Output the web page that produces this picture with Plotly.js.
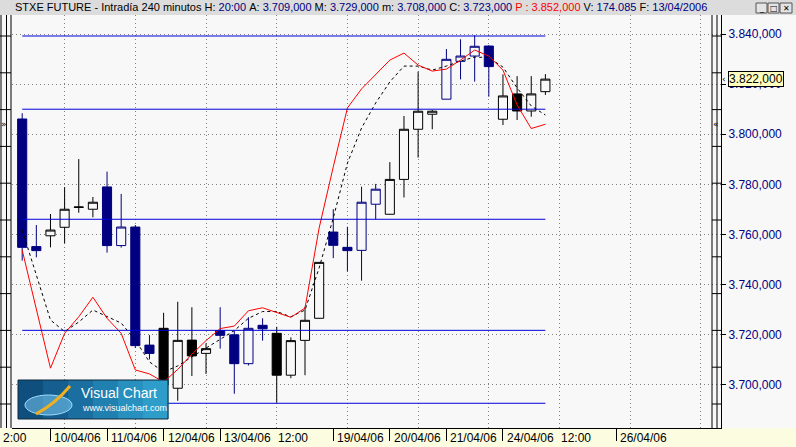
<!DOCTYPE html>
<html><head><meta charset="utf-8">
<script src="https://cdn.plot.ly/plotly-3.0.1.min.js"></script>
<style>html,body{margin:0;padding:0;background:#f8f8f8;overflow:hidden}#chart{width:796px;height:447px}</style>
</head><body><div id="chart"></div>
<script>
// ---------- data ----------
const candleDay = ['07/04','07/04','10/04','10/04','10/04','10/04','11/04','11/04','11/04','11/04',
  '12/04','12/04','12/04','12/04','13/04','13/04','13/04','13/04','18/04','18/04','18/04','18/04',
  '19/04','19/04','19/04','19/04','20/04','20/04','20/04','20/04','21/04','21/04','21/04','21/04',
  '24/04','24/04','24/04','24/04'];
const opens  = [3806.1,3755.2,3759.5,3762.9,3770.8,3770.1,3779.0,3755.6,3763.0,3715.9,
  3722.6,3698.7,3717.9,3712.6,3721.7,3720.0,3708.5,3723.8,3720.6,3703.9,3717.8,3726.6,
  3761.0,3754.9,3753.7,3772.1,3768.1,3782.0,3802.0,3808.0,3814.0,3829.1,3831.2,3835.2,
  3806.0,3816.1,3809.3,3817.0];
const highs  = [3808.4,3763.8,3768.2,3778.9,3790.1,3775.0,3785.1,3776.2,3763.8,3719.9,
  3728.8,3733.2,3731.0,3716.6,3731.0,3721.7,3727.0,3726.6,3723.2,3719.0,3731.2,3749.0,
  3770.1,3763.1,3779.1,3780.2,3788.9,3807.3,3825.0,3809.7,3834.0,3837.9,3839.5,3835.5,
  3823.9,3823.2,3823.2,3824.0];
const lows   = [3749.6,3750.9,3754.9,3756.5,3768.7,3766.9,3752.8,3754.8,3714.8,3710.2,
  3695.0,3693.7,3703.6,3704.4,3714.5,3696.5,3707.8,3717.7,3692.9,3702.7,3703.9,3726.5,
  3750.6,3745.3,3741.6,3766.1,3768.0,3774.8,3790.7,3802.0,3814.0,3821.9,3821.0,3815.0,
  3803.7,3805.7,3807.0,3815.7];
const closes = [3754.9,3753.6,3761.8,3770.1,3771.0,3772.9,3755.6,3763.0,3715.7,3712.6,
  3700.0,3717.8,3711.6,3714.5,3719.8,3708.5,3722.6,3722.4,3703.9,3717.7,3725.8,3748.9,
  3755.7,3753.6,3772.9,3778.1,3782.0,3802.0,3809.2,3809.2,3829.9,3831.2,3835.1,3827.0,
  3815.3,3809.3,3816.1,3822.0];
const redLine = [3753.8,3729.9,3706.7,3720.6,3727.2,3735.0,3726.6,3720.6,3706.0,3704.4,
  3701.2,3706.2,3712.3,3717.7,3722.5,3723.5,3729.6,3730.8,3728.8,3727.0,3730.7,3762.6,
  3787.0,3810.5,3818.1,3824.0,3829.6,3832.4,3827.6,3825.2,3826.0,3829.6,3833.6,3831.2,
  3825.6,3811.7,3802.3,3804.0];
const dashLine = [3761.8,3743.9,3725.9,3721.3,3725.1,3729.9,3727.2,3724.7,3717.9,3709.2,
  3705.2,3707.6,3711.2,3714.8,3718.1,3721.7,3726.6,3729.3,3729.3,3727.2,3729.9,3746.7,
  3766.6,3788.5,3802.5,3812.5,3820.9,3827.2,3827.2,3825.6,3827.2,3829.2,3830.8,3830.6,
  3826.8,3818.5,3811.3,3807.7];
const levelLines = [3839.2, 3810.0, 3766.1, 3721.8, 3692.7];
const xLabelText = ['10/04/06','11/04/06','12/04/06','13/04/06','12:00','19/04/06','20/04/06','21/04/06','24/04/06','12:00','26/04/06'];
const xLabelPos  = [2,6,10,14,18,22,26,30,34,38,42];
const titleFields = [['H:','20:00'],['A:','3.709,000'],['M:','3.729,000'],['m:','3.708,000'],
  ['C:','3.723,000'],['P :','3.852,000'],['V:','174.085'],['F:','13/04/2006']];

// ---------- geometry helpers (pixels -> paper) ----------
const L=12, R=721, T=15, B=428;
const PW=R-L, PH=B-T;
const px=(x)=>(x-L)/PW, py=(y)=>(B-y)/PH;
const NAVY='#000080', BG='#f8f8f8';
const FONT='Liberation Sans, Arial, sans-serif';
const xRange=[-0.721, 49.42];
const yRange=[3682.84, 3847.58];
const idx = opens.map((_,i)=>i);

// ---------- traces ----------
const dayOrder=[]; candleDay.forEach(d=>{ if(!dayOrder.includes(d)) dayOrder.push(d); });
const groups=[{c:NAVY,x:[],o:[],h:[],l:[],cl:[]},{c:'#000000',x:[],o:[],h:[],l:[],cl:[]}];
idx.forEach(i=>{ const g=groups[dayOrder.indexOf(candleDay[i])%2];
  g.x.push(i); g.o.push(opens[i]); g.h.push(highs[i]); g.l.push(lows[i]); g.cl.push(closes[i]); });
const traces=[];
groups.forEach(g=>traces.push({type:'candlestick',x:g.x,open:g.o,high:g.h,low:g.l,close:g.cl,
  increasing:{line:{color:g.c,width:1},fillcolor:BG},decreasing:{line:{color:g.c,width:1},fillcolor:g.c},
  whiskerwidth:0,showlegend:false,hoverinfo:'skip'}));
levelLines.forEach(v=>traces.push({type:'scatter',mode:'lines',xaxis:'x2',x:[idx[0],idx[idx.length-1]],y:[v,v],
  line:{color:'#0000d8',width:1},showlegend:false,hoverinfo:'skip'}));
traces.push({type:'scatter',mode:'lines',x:idx,y:dashLine,line:{color:'#000000',width:1,dash:'3px,3px'},showlegend:false,hoverinfo:'skip'});
traces.push({type:'scatter',mode:'lines',x:idx,y:redLine,line:{color:'#ff0000',width:1},showlegend:false,hoverinfo:'skip'});

// ---------- shapes (decorations) ----------
const shapes=[];
shapes.push({type:'rect',xref:'paper',yref:'paper',x0:px(-5),x1:px(801),y0:py(447),y1:py(B),fillcolor:'#fcfce0',line:{width:0},layer:'below'});
shapes.push({type:'rect',xref:'paper',yref:'paper',x0:px(-5),x1:px(801),y0:py(T),y1:py(-5),fillcolor:'#dcdcdc',line:{width:0},layer:'below'});
[1,6.5,11,712,717].forEach(x=>shapes.push({type:'line',xref:'paper',yref:'paper',x0:px(x),x1:px(x),y0:py(B),y1:py(T),line:{color:'#000',width:1}}));
for(let k=0;k<=10;k++){ const y=36+k*36.8;
  shapes.push({type:'line',xref:'paper',yref:'paper',x0:px(0),x1:px(11),y0:py(y),y1:py(y),line:{color:'#000',width:1}});
  shapes.push({type:'line',xref:'paper',yref:'paper',x0:px(712),x1:px(721),y0:py(y),y1:py(y),line:{color:'#000',width:1}});
}
// window buttons
[[756,767],[768,779],[780,792]].forEach(b=>shapes.push({type:'rect',xref:'paper',yref:'paper',x0:px(b[0]),x1:px(b[1]),y0:py(13),y1:py(3),fillcolor:'#e4e4e4',line:{color:'#555',width:1}}));
// logo
const logoCols=['#0f4f7d','#145f8f','#1a6fa0','#2080b0','#2790bf','#2e9dca'];
logoCols.forEach((c,i)=>{ const w=(168-18)/logoCols.length;
  shapes.push({type:'rect',xref:'paper',yref:'paper',x0:px(18+i*w),x1:px(18+(i+1)*w+0.5),y0:py(419),y1:py(380),fillcolor:c,line:{width:0},layer:'above'}); });
shapes.push({type:'rect',xref:'paper',yref:'paper',x0:px(18),x1:px(168),y0:py(419),y1:py(380),line:{color:'#10283c',width:1},layer:'above'});
shapes.push({type:'circle',xref:'paper',yref:'paper',x0:px(25),x1:px(72),y0:py(415),y1:py(395),fillcolor:'rgba(120,200,240,0.55)',line:{color:'#9fdcff',width:1},layer:'above'});
shapes.push({type:'path',xref:'paper',yref:'paper',path:`M ${px(36)} ${py(414)} Q ${px(55)} ${py(404)} ${px(70)} ${py(386)}`,line:{color:'#f0b020',width:3},layer:'above'});

// ---------- annotations ----------
const ann=[];
const NB='\u00a0';
let t='STXE FUTURE - Intradía 240 minutos';
titleFields.forEach(f=>{ const red=f[0].startsWith('P');
  t+= red ? `${NB}<span style="color:#ff0000">${f[0]}${NB}${f[1]}</span>` : `${NB}${f[0]}${NB}<span style="color:#000080">${f[1]}</span>`; });
ann.push({xref:'paper',yref:'paper',x:px(13),y:py(7.5),xanchor:'left',yanchor:'middle',showarrow:false,text:t,
  font:{family:FONT,size:11,color:'#000'}});
['_','□','✕'].forEach((s,i)=>ann.push({xref:'paper',yref:'paper',x:px([761.5,773.5,786][i]),y:py(8),xanchor:'center',yanchor:'middle',showarrow:false,text:s,font:{family:'DejaVu Sans',size:8,color:'#000'}}));
xLabelText.forEach((s,i)=>ann.push({xref:'x',yref:'paper',x:xLabelPos[i],y:py(438),xanchor:'left',yanchor:'middle',xshift:s.includes('/')?2:-1,showarrow:false,text:s,
  font:{family:FONT,size:12,color:'#000'}}));
ann.push({xref:'paper',yref:'paper',x:px(1),y:py(438),xanchor:'left',yanchor:'middle',showarrow:false,text:'2:00',font:{family:FONT,size:12,color:'#000'}});
const lastC=closes[closes.length-1];
const fmt=(v)=>{ const s=v.toFixed(3).split('.'); return s[0].replace(/\B(?=(\d{3})+(?!\d))/g,'.')+','+s[1]; };
ann.push({xref:'paper',yref:'y',x:px(728),y:lastC,xanchor:'left',yanchor:'middle',showarrow:false,text:fmt(lastC),
  bgcolor:'#ffffc0',bordercolor:'#000',borderwidth:1,borderpad:0,font:{family:FONT,size:12,color:'#000'}});
ann.push({xref:'paper',yref:'y',x:px(724),y:lastC,xanchor:'center',yanchor:'middle',showarrow:false,text:'‹',font:{family:'DejaVu Sans',size:9,color:'#000'}});
ann.push({xref:'paper',yref:'paper',x:px(4),y:py(124),xanchor:'center',yanchor:'middle',showarrow:false,text:'»',font:{family:'DejaVu Sans',size:9,color:'#000'}});
ann.push({xref:'paper',yref:'paper',x:px(716),y:py(124),xanchor:'center',yanchor:'middle',showarrow:false,text:'«',font:{family:'DejaVu Sans',size:9,color:'#000'}});
ann.push({xref:'paper',yref:'paper',x:px(79),y:py(393),xanchor:'left',yanchor:'middle',showarrow:false,text:'Visual Chart',font:{family:FONT,size:14,color:'#ffffff'}});
ann.push({xref:'paper',yref:'paper',x:px(80),y:py(408),xanchor:'left',yanchor:'middle',showarrow:false,text:'www.visualchart.com',font:{family:FONT,size:9,color:'#ffffff'}});

// ---------- layout ----------
const layout={
  width:796,height:447,margin:{l:L,r:796-R,t:T,b:447-B,pad:0},
  paper_bgcolor:BG,plot_bgcolor:BG,separators:',.',showlegend:false,
  boxgap:0.08,boxmode:'overlay',
  xaxis:{range:xRange,autorange:false,rangeslider:{visible:false},showticklabels:false,ticks:'',
    tick0:3,dtick:5,showgrid:true,gridcolor:'#808080',griddash:'1px,3px',gridwidth:1,zeroline:false,
    showline:true,linecolor:'#000',linewidth:1},
  xaxis2:{overlaying:'x',anchor:'y',side:'bottom',range:xRange,autorange:false,tickmode:'array',
    tickvals:xLabelPos.filter((v,i)=>xLabelText[i].includes('/')),ticks:'outside',ticklen:12,tickcolor:'#000',tickwidth:1,
    showticklabels:false,showgrid:false,zeroline:false,showline:false},
  yaxis:{range:yRange,autorange:false,side:'right',tick0:3700,dtick:20,tickformat:',.3f',
    ticks:'outside',ticklen:4,tickcolor:'#000',showline:true,linecolor:'#000',
    tickfont:{family:FONT,size:12,color:NAVY},
    showgrid:true,gridcolor:'#808080',griddash:'1px,3px',zeroline:false},
  shapes:shapes,annotations:ann
};
Plotly.newPlot('chart',traces,layout,{staticPlot:true,displayModeBar:false});
</script></body></html>
